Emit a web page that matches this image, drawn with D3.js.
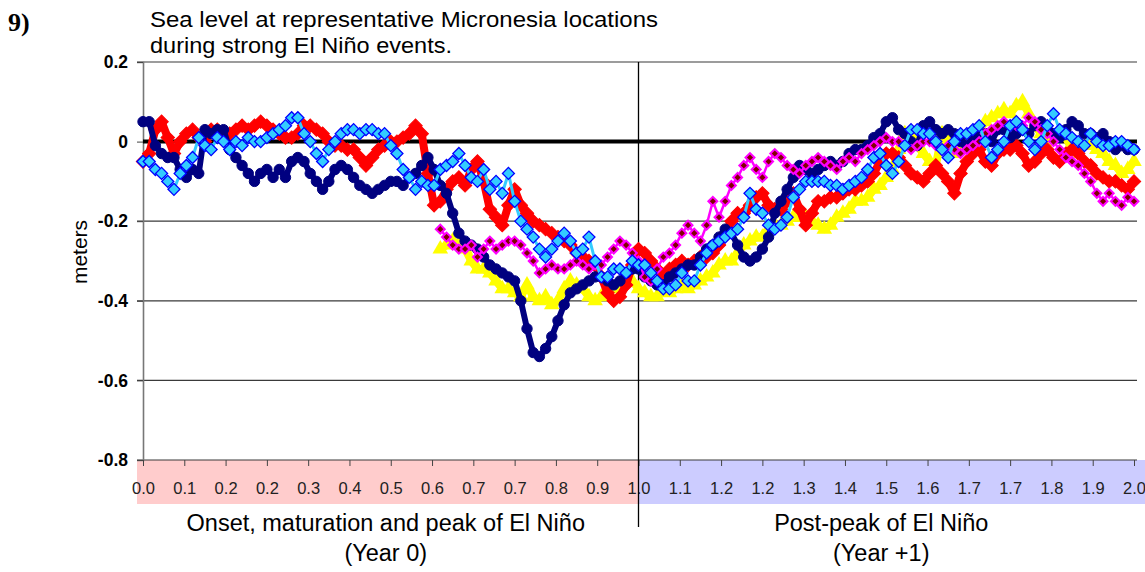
<!DOCTYPE html>
<html><head><meta charset="utf-8">
<script src="https://cdn.jsdelivr.net/npm/d3@7"></script>
<style>body{margin:0;background:#fff} svg{display:block}</style>
</head><body><svg id="c" width="1145" height="572"></svg>
<script>
// sampling interval (years) of the stored readings
const step = 0.0125;

// Navy series (0.0 - 2.0 yr), meters
const navy = [
0.05,0.05,-0.01,-0.03,-0.04,-0.04,-0.07,-0.09,-0.07,-0.08,
0.03,0.02,0.03,0.03,-0.02,-0.04,-0.06,-0.08,-0.10,-0.08,
-0.07,-0.09,-0.07,-0.09,-0.05,-0.04,-0.05,-0.08,-0.10,-0.12,
-0.10,-0.07,-0.06,-0.07,-0.09,-0.11,-0.12,-0.13,-0.12,-0.11,
-0.10,-0.10,-0.11,-0.09,-0.08,-0.06,-0.04,-0.07,-0.11,-0.13,
-0.18,-0.23,-0.25,-0.26,-0.27,-0.29,-0.31,-0.32,-0.33,-0.34,
-0.35,-0.40,-0.47,-0.53,-0.54,-0.52,-0.49,-0.45,-0.41,-0.38,
-0.37,-0.36,-0.35,-0.34,-0.34,-0.35,-0.36,-0.35,-0.33,-0.32,
-0.32,-0.34,-0.35,-0.36,-0.36,-0.34,-0.33,-0.32,-0.31,-0.31,
-0.29,-0.27,-0.26,-0.24,-0.22,-0.23,-0.26,-0.29,-0.30,-0.29,
-0.27,-0.24,-0.18,-0.15,-0.12,-0.09,-0.06,-0.07,-0.08,-0.07,
-0.06,-0.05,-0.06,-0.05,-0.03,-0.02,-0.02,-0.01,0.01,0.02,
0.05,0.06,0.03,0.02,0.00,-0.01,0.04,0.05,0.03,0.02,
0.03,0.02,0.00,-0.01,0.01,0.02,0.02,0.00,0.03,0.03,
0.01,0.02,0.03,0.02,0.04,0.05,0.03,0.02,0.01,0.03,
0.05,0.04,0.02,0.02,0.01,0.02,0.00,-0.02,-0.01,-0.02,
-0.02];

// Red series (0.0 - 2.0 yr)
const red = [
-0.05,-0.03,0.03,0.05,0.01,-0.03,0.00,0.02,0.03,0.01,
0.00,0.03,0.03,0.01,0.02,0.03,0.04,0.03,0.04,0.05,
0.04,0.03,0.02,0.01,0.01,0.02,0.04,0.04,0.03,0.02,
0.00,-0.01,-0.01,-0.02,-0.02,-0.04,-0.06,-0.04,-0.02,-0.01,
0.00,0.00,0.01,0.02,0.04,0.02,-0.08,-0.16,-0.15,-0.12,
-0.10,-0.09,-0.11,-0.07,-0.05,-0.10,-0.17,-0.19,-0.21,-0.16,
-0.12,-0.16,-0.18,-0.20,-0.21,-0.22,-0.23,-0.24,-0.25,-0.26,
-0.28,-0.29,-0.30,-0.31,-0.34,-0.38,-0.40,-0.39,-0.36,-0.31,
-0.27,-0.28,-0.30,-0.32,-0.34,-0.32,-0.31,-0.30,-0.31,-0.30,
-0.29,-0.29,-0.28,-0.26,-0.23,-0.20,-0.18,-0.18,-0.16,-0.14,
-0.13,-0.16,-0.17,-0.17,-0.15,-0.13,-0.17,-0.21,-0.18,-0.15,
-0.15,-0.14,-0.14,-0.13,-0.12,-0.12,-0.11,-0.10,-0.08,-0.05,
-0.03,-0.03,-0.04,-0.06,-0.08,-0.09,-0.10,-0.08,-0.06,-0.08,
-0.10,-0.13,-0.08,-0.05,-0.03,-0.02,-0.05,-0.06,-0.03,-0.02,
-0.02,-0.01,-0.03,-0.06,-0.05,-0.03,-0.02,-0.04,-0.05,-0.03,
-0.02,-0.03,-0.05,-0.06,-0.08,-0.09,-0.10,-0.10,-0.11,-0.12,
-0.10];

// Cyan series (0.0 - 2.0 yr)
const cyan = [
-0.05,-0.05,-0.07,-0.08,-0.10,-0.12,-0.08,-0.06,-0.04,0.01,
-0.01,-0.02,0.01,0.00,-0.02,0.00,-0.01,0.01,0.00,0.00,
0.01,0.02,0.03,0.04,0.06,0.06,0.02,0.00,-0.03,-0.05,
-0.02,0.00,0.02,0.03,0.03,0.02,0.03,0.03,0.02,0.02,
-0.01,-0.03,-0.07,-0.09,-0.12,-0.10,-0.11,-0.11,-0.07,-0.06,
-0.05,-0.03,-0.06,-0.09,-0.10,-0.07,-0.12,-0.10,-0.13,-0.08,
-0.15,-0.20,-0.22,-0.24,-0.27,-0.29,-0.27,-0.25,-0.23,-0.25,
-0.28,-0.27,-0.24,-0.30,-0.34,-0.34,-0.32,-0.32,-0.33,-0.30,
-0.31,-0.31,-0.33,-0.35,-0.37,-0.37,-0.36,-0.33,-0.35,-0.35,
-0.31,-0.28,-0.26,-0.25,-0.24,-0.23,-0.22,-0.19,-0.13,-0.17,
-0.18,-0.21,-0.22,-0.21,-0.19,-0.14,-0.12,-0.10,-0.10,-0.10,
-0.10,-0.11,-0.11,-0.12,-0.11,-0.10,-0.09,-0.07,-0.04,-0.03,
-0.06,-0.08,-0.05,-0.01,0.03,0.03,0.02,0.02,0.00,-0.02,
-0.04,0.00,0.02,0.02,0.03,0.04,0.00,-0.04,-0.02,0.00,
0.04,0.05,0.03,0.00,-0.02,0.00,0.04,0.07,0.03,0.02,
0.01,0.00,-0.01,0.02,0.00,-0.01,-0.01,0.00,0.00,-0.01,
-0.02];

// Yellow series (0.6 - 2.0 yr)
const yellowStart = 0.6;
const yellow = [
-0.27,-0.26,-0.25,-0.26,-0.27,-0.30,-0.32,-0.32,-0.33,-0.35,
-0.37,-0.37,-0.38,-0.39,-0.36,-0.39,-0.40,-0.39,-0.41,-0.40,
-0.37,-0.35,-0.36,-0.37,-0.39,-0.40,-0.39,-0.37,-0.37,-0.36,
-0.35,-0.35,-0.37,-0.38,-0.39,-0.39,-0.37,-0.38,-0.37,-0.36,
-0.37,-0.36,-0.35,-0.34,-0.33,-0.31,-0.30,-0.30,-0.28,-0.26,
-0.25,-0.24,-0.24,-0.22,-0.21,-0.21,-0.20,-0.19,-0.19,-0.19,
-0.20,-0.21,-0.22,-0.21,-0.19,-0.18,-0.17,-0.15,-0.15,-0.14,
-0.12,-0.11,-0.09,-0.07,-0.02,0.02,0.02,-0.01,-0.03,-0.05,
-0.06,0.02,0.00,-0.03,-0.02,0.00,0.02,0.03,0.05,0.06,
0.07,0.08,0.07,0.09,0.10,0.07,0.04,0.02,0.00,0.01,
0.02,0.01,-0.02,-0.03,-0.01,0.00,-0.02,-0.03,-0.05,-0.06,
-0.08,-0.07,-0.05];

// Magenta series (0.6 - 2.0 yr)
const magentaStart = 0.6;
const magenta = [
-0.22,-0.24,-0.26,-0.27,-0.27,-0.26,-0.29,-0.27,-0.25,-0.27,
-0.26,-0.25,-0.25,-0.26,-0.28,-0.30,-0.33,-0.32,-0.31,-0.32,
-0.32,-0.31,-0.30,-0.31,-0.32,-0.31,-0.31,-0.29,-0.27,-0.25,
-0.26,-0.28,-0.30,-0.34,-0.35,-0.32,-0.29,-0.28,-0.26,-0.23,
-0.21,-0.23,-0.25,-0.21,-0.15,-0.19,-0.15,-0.11,-0.09,-0.06,
-0.04,-0.07,-0.09,-0.05,-0.03,-0.04,-0.06,-0.07,-0.08,-0.06,
-0.05,-0.04,-0.05,-0.06,-0.07,-0.05,-0.04,-0.05,-0.03,-0.02,
-0.01,0.00,0.01,0.00,0.00,-0.01,-0.02,-0.01,0.00,0.00,
-0.01,-0.02,-0.01,-0.02,-0.03,-0.02,-0.01,0.00,0.02,0.03,
0.04,0.05,0.04,0.04,0.04,0.06,0.05,0.03,0.02,0.00,
-0.02,-0.04,-0.05,-0.06,-0.08,-0.10,-0.13,-0.15,-0.13,-0.15,
-0.16,-0.14,-0.15];

const xTickLabels = ["0.0","0.1","0.2","0.2","0.3","0.4","0.5","0.6","0.7","0.7","0.8","0.9","1.0",
                     "1.1","1.2","1.2","1.3","1.4","1.5","1.6","1.7","1.7","1.8","1.9","2.0"];
const yTicks = [0.2, 0, -0.2, -0.4, -0.6, -0.8];
const yTickLabels = ["0.2","0","-0.2","-0.4","-0.6","-0.8"];
const titleLines = ["Sea level at representative Micronesia locations", "during strong El Niño events."];
const periodLabels = [
  {from:0, to:1, lines:["Onset, maturation and peak of El Niño","(Year 0)"], band:"#FFCCCC"},
  {from:1, to:2, lines:["Post-peak of El Niño","(Year +1)"], band:"#CCCCFF"}
];

const svg = d3.select("#c");
const x = d3.scaleLinear().domain([0,2]).range([143,1134]);
const y = d3.scaleLinear().domain([-0.8,0.2]).range([460,62]);
const FONT = "'Liberation Sans', Arial, sans-serif";

// period bands under the axis
svg.append("rect").attr("x",137).attr("y",y(-0.8)).attr("width",x(1)-137).attr("height",44).attr("fill",periodLabels[0].band);
svg.append("rect").attr("x",x(1)).attr("y",y(-0.8)).attr("width",1145-x(1)).attr("height",44).attr("fill",periodLabels[1].band);

// horizontal gridlines
svg.append("g").selectAll("line").data(yTicks.filter(d=>d!==0)).join("line")
  .attr("x1",137).attr("x2",1137).attr("y1",d=>y(d)).attr("y2",d=>y(d))
  .attr("stroke","#3a3a3a").attr("stroke-width",1.2);

// y axis
const yAxis = d3.axisLeft(y).tickValues(yTicks).tickFormat((d,i)=>yTickLabels[i]).tickSize(6).tickPadding(9);
const gy = svg.append("g").attr("transform","translate(143,0)").call(yAxis);
gy.select(".domain").attr("stroke","#777").attr("stroke-width",1.6);
gy.selectAll(".tick line").attr("stroke","#444");
gy.selectAll("text").attr("font-family",FONT).attr("font-weight","bold").attr("font-size",17.5).attr("fill","#000");

// x axis
const xTickVals = xTickLabels.map((_,i)=>i/12);
const xAxis = d3.axisBottom(x).tickValues(xTickVals).tickFormat((d,i)=>xTickLabels[i]).tickSize(6).tickPadding(16);
const gx = svg.append("g").attr("transform",`translate(0,${y(-0.8)})`).call(xAxis);
gx.select(".domain").remove();
gx.selectAll(".tick line").attr("stroke","#444");
gx.selectAll("text").attr("font-family",FONT).attr("font-size",16.5).attr("fill","#222");

// zero line
svg.append("line").attr("x1",143).attr("x2",1137).attr("y1",y(0)).attr("y2",y(0)).attr("stroke","#000").attr("stroke-width",4);

// divider at year 1.0
svg.append("line").attr("x1",x(1)).attr("x2",x(1)).attr("y1",y(0.2)).attr("y2",527).attr("stroke","#000").attr("stroke-width",1.3);

// series
function pts(vals, start){ return vals.map((v,i)=>({t:start + i*step, v:v})); }
const line = d3.line().x(d=>x(d.t)).y(d=>y(d.v));
const series = [
  {name:"yellow", data:pts(yellow,yellowStart), line:"#FFFF00", lw:8, sym:d3.symbolTriangle, size:105, fill:"#FFFF00", stroke:"none", sw:0, rot:0},
  {name:"red", data:pts(red,0), line:"#FF0000", lw:8, sym:d3.symbolSquare, size:90, fill:"#FF0000", stroke:"#FF0000", sw:1, rot:45},
  {name:"navy", data:pts(navy,0), line:"#000080", lw:6, sym:d3.symbolCircle, size:85, fill:"#000080", stroke:"#000080", sw:1, rot:0},
  {name:"magenta", data:pts(magenta,magentaStart), line:"#FF00FF", lw:2.5, sym:d3.symbolSquare, size:40, fill:"#800000", stroke:"#FF00FF", sw:2, rot:45},
  {name:"cyan", data:pts(cyan,0), line:"#33CCFF", lw:3, sym:d3.symbolSquare, size:72, fill:"#33CCFF", stroke:"#0000FF", sw:1.3, rot:45}
];
series.forEach(s=>{
  const g = svg.append("g").attr("class",s.name);
  g.append("path").datum(s.data).attr("d",line).attr("fill","none").attr("stroke",s.line)
    .attr("stroke-width",s.lw).attr("stroke-linejoin","round");
  g.selectAll("path.m").data(s.data).join("path").attr("class","m")
    .attr("d",d3.symbol().type(s.sym).size(s.size))
    .attr("transform",d=>`translate(${x(d.t)},${y(d.v)}) rotate(${s.rot})`)
    .attr("fill",s.fill).attr("stroke",s.stroke).attr("stroke-width",s.sw);
});

// titles
svg.append("text").attr("x",8).attr("y",31).attr("font-family","'Liberation Serif', 'Times New Roman', serif")
  .attr("font-weight","bold").attr("font-size",26).text("9)");
svg.append("text").attr("x",150).attr("y",27).attr("font-family",FONT).attr("font-size",21.5)
  .attr("textLength",508).attr("lengthAdjust","spacingAndGlyphs").text(titleLines[0]);
svg.append("text").attr("x",150).attr("y",53).attr("font-family",FONT).attr("font-size",21.5)
  .attr("textLength",302).attr("lengthAdjust","spacingAndGlyphs").text(titleLines[1]);

// y label
svg.append("text").attr("transform","translate(87,252) rotate(-90)").attr("text-anchor","middle")
  .attr("font-family",FONT).attr("font-size",21).text("meters");

// period labels
periodLabels.forEach(p=>{
  const cx = (x(p.from)+x(p.to))/2 - 5;
  p.lines.forEach((t,i)=>{
    svg.append("text").attr("x",cx).attr("y",531+i*30).attr("text-anchor","middle")
      .attr("font-family",FONT).attr("font-size",23.5).text(t);
  });
});
</script></body></html>
